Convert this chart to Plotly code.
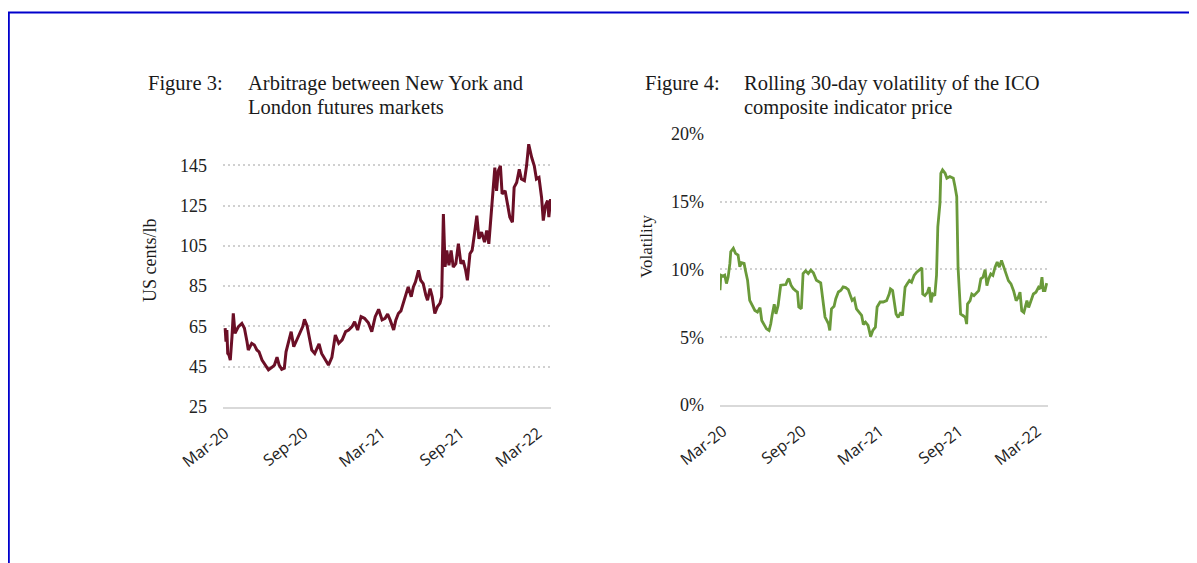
import plotly.graph_objects as go

W, H = 1197, 563
OFF = 8  # page body margin compensation

# ---------------- data ----------------
tick_dates = ["2020-03-01", "2020-09-01", "2021-03-01", "2021-09-01", "2022-03-01"]
tick_labels = ["Mar-20", "Sep-20", "Mar-21", "Sep-21", "Mar-22"]

arb_ticks = [25, 45, 65, 85, 105, 125, 145]
vol_ticks = [0, 5, 10, 15, 20]
vol_tick_labels = ["0%", "5%", "10%", "15%", "20%"]

arb_dates = [
    "2020-03-01", "2020-03-03", "2020-03-05", "2020-03-07", "2020-03-10", "2020-03-13",
    "2020-03-17", "2020-03-20", "2020-03-24", "2020-04-01", "2020-04-09", "2020-04-15",
    "2020-04-21", "2020-04-24", "2020-05-02", "2020-05-08", "2020-05-14", "2020-05-19",
    "2020-05-26", "2020-06-02", "2020-06-10", "2020-06-18", "2020-06-24", "2020-06-30",
    "2020-07-05", "2020-07-11", "2020-07-17", "2020-07-21", "2020-07-27", "2020-08-02",
    "2020-08-08", "2020-08-15", "2020-08-23", "2020-08-29", "2020-09-02", "2020-09-08",
    "2020-09-13", "2020-09-19", "2020-09-26", "2020-10-01", "2020-10-06", "2020-10-12",
    "2020-10-20", "2020-10-28", "2020-11-05", "2020-11-13", "2020-11-21", "2020-11-29",
    "2020-12-07", "2020-12-14", "2020-12-22", "2020-12-28", "2021-01-04", "2021-01-12",
    "2021-01-20", "2021-01-29", "2021-02-06", "2021-02-14", "2021-02-22", "2021-03-02",
    "2021-03-09", "2021-03-15", "2021-03-21", "2021-03-29", "2021-04-03", "2021-04-09",
    "2021-04-15", "2021-04-21", "2021-04-26", "2021-05-02", "2021-05-09", "2021-05-14",
    "2021-05-19", "2021-05-26", "2021-05-31", "2021-06-06", "2021-06-12", "2021-06-16",
    "2021-06-22", "2021-06-27", "2021-07-03", "2021-07-09", "2021-07-15", "2021-07-19",
    "2021-07-23", "2021-07-27", "2021-07-31", "2021-08-05", "2021-08-10", "2021-08-15",
    "2021-08-21", "2021-08-27", "2021-09-02", "2021-09-07", "2021-09-13", "2021-09-17",
    "2021-09-23", "2021-09-28", "2021-10-03", "2021-10-09", "2021-10-14", "2021-10-20",
    "2021-10-27", "2021-11-01", "2021-11-06", "2021-11-12", "2021-11-16", "2021-11-20",
    "2021-11-24", "2021-11-28", "2021-12-03", "2021-12-07", "2021-12-14", "2021-12-20",
    "2021-12-25", "2021-12-31", "2022-01-04", "2022-01-10", "2022-01-16", "2022-01-21",
    "2022-01-28", "2022-02-02", "2022-02-07", "2022-02-14", "2022-02-20", "2022-02-25",
    "2022-03-03", "2022-03-09", "2022-03-13", "2022-03-18", "2022-03-23", "2022-03-26",
    "2022-03-30",
]
arb_values = [
    64.1, 57.4, 63.2, 51.6, 50.8, 48.3,
    59.9, 71.5, 61.6, 64.9, 66.5, 64.1,
    57.4, 53.3, 56.6, 55.8, 53.3, 52.4,
    48.3, 45.8, 43.4, 44.7, 45.8, 49.7,
    45.8, 43.7, 44.2, 52.4, 57.4, 62.4,
    54.9, 58.3, 61.6, 64.9, 68.5, 65.4,
    59.9, 53.3, 51.6, 53.6, 56.3, 51.6,
    48.7, 45.8, 49.7, 60.7, 56.6, 58.3,
    62.4, 63.2, 64.9, 67.3, 63.2, 69.8,
    69.0, 66.8, 62.4, 69.8, 73.5, 68.2,
    69.0, 71.1, 68.1, 63.2, 68.1, 71.4,
    72.7, 77.2, 79.7, 84.6, 79.7, 84.6,
    87.1, 92.8, 87.9, 86.2, 80.5, 78.0,
    83.8, 79.7, 71.4, 74.7, 76.4, 79.7,
    120.8, 94.5, 102.7, 95.3, 102.7, 94.5,
    96.1, 106.0, 96.1, 97.8, 92.8, 87.9,
    101.1, 102.7, 110.1, 120.0, 108.5, 111.8,
    106.8, 112.6, 106.0, 124.1, 134.0, 143.8,
    132.3, 142.2, 144.7, 130.7, 132.3, 124.1,
    119.2, 116.7, 134.0, 136.4, 143.0, 138.1,
    137.3, 144.7, 155.4, 148.8, 144.7, 138.1,
    138.9, 129.0, 117.5, 124.9, 127.4, 119.2,
    128.2,
]

vol_dates = [
    "2020-02-23", "2020-02-25", "2020-03-01", "2020-03-05", "2020-03-09", "2020-03-13",
    "2020-03-17", "2020-03-19", "2020-03-25", "2020-03-30", "2020-04-05", "2020-04-09",
    "2020-04-13", "2020-04-19", "2020-04-22", "2020-04-27", "2020-05-02", "2020-05-08",
    "2020-05-14", "2020-05-20", "2020-05-26", "2020-05-30", "2020-06-05", "2020-06-10",
    "2020-06-16", "2020-06-20", "2020-06-23", "2020-06-28", "2020-07-02", "2020-07-07",
    "2020-07-13", "2020-07-19", "2020-07-25", "2020-07-29", "2020-08-01", "2020-08-06",
    "2020-08-11", "2020-08-17", "2020-08-21", "2020-08-24", "2020-08-30", "2020-09-03",
    "2020-09-09", "2020-09-15", "2020-09-21", "2020-09-27", "2020-10-04", "2020-10-14",
    "2020-10-20", "2020-10-24", "2020-10-28", "2020-11-01", "2020-11-04", "2020-11-08",
    "2020-11-14", "2020-11-18", "2020-11-24", "2020-11-30", "2020-12-05", "2020-12-11",
    "2020-12-17", "2020-12-21", "2020-12-26", "2020-12-31", "2021-01-05", "2021-01-11",
    "2021-01-17", "2021-01-21", "2021-01-26", "2021-02-01", "2021-02-07", "2021-02-12",
    "2021-02-18", "2021-02-22", "2021-03-01", "2021-03-08", "2021-03-16", "2021-03-22",
    "2021-03-25", "2021-03-30", "2021-04-02", "2021-04-07", "2021-04-12", "2021-04-18",
    "2021-04-22", "2021-04-28", "2021-05-03", "2021-05-08", "2021-05-13", "2021-05-19",
    "2021-05-25", "2021-05-31", "2021-06-06", "2021-06-08", "2021-06-13", "2021-06-19",
    "2021-06-23", "2021-06-27", "2021-07-01", "2021-07-06", "2021-07-10", "2021-07-13",
    "2021-07-18", "2021-07-20", "2021-07-24", "2021-07-30", "2021-08-03", "2021-08-10",
    "2021-08-18", "2021-08-22", "2021-08-26", "2021-08-29", "2021-09-01", "2021-09-04",
    "2021-09-10", "2021-09-15", "2021-09-18", "2021-09-20", "2021-09-26", "2021-09-30",
    "2021-10-05", "2021-10-11", "2021-10-16", "2021-10-21", "2021-10-26", "2021-10-31",
    "2021-11-04", "2021-11-08", "2021-11-13", "2021-11-18", "2021-11-23", "2021-11-28",
    "2021-12-03", "2021-12-08", "2021-12-14", "2021-12-19", "2021-12-24", "2021-12-30",
    "2022-01-05", "2022-01-11", "2022-01-16", "2022-01-20", "2022-01-24", "2022-01-29",
    "2022-02-05", "2022-02-09", "2022-02-14", "2022-02-20", "2022-02-26", "2022-03-04",
    "2022-03-08", "2022-03-12", "2022-03-15", "2022-03-19", "2022-03-23",
]
vol_values = [
    8.47, 9.58, 9.50, 9.58, 8.96, 9.46,
    10.45, 11.31, 11.56, 11.19, 11.06, 10.20,
    10.50, 10.45, 9.95, 9.21, 7.72, 7.35,
    6.98, 6.86, 7.18, 6.24, 5.87, 5.62,
    5.50, 5.99, 6.61, 7.43, 6.73, 7.35,
    8.84, 8.84, 8.89, 9.21, 9.33, 8.84,
    8.59, 8.42, 8.34, 7.23, 7.10, 9.70,
    9.90, 9.70, 9.95, 9.75, 9.21, 9.01,
    7.72, 6.49, 6.24, 5.99, 5.50, 7.10,
    7.28, 7.85, 8.34, 8.47, 8.71, 8.66,
    8.52, 8.09, 7.72, 7.85, 7.10, 6.86,
    6.61, 5.94, 6.11, 5.87, 5.05, 5.50,
    5.74, 7.23, 7.60, 7.60, 7.70, 8.19,
    8.57, 8.45, 7.70, 6.71, 6.46, 6.83,
    6.59, 8.69, 8.94, 9.18, 9.06, 9.56,
    9.80, 9.93, 10.12, 8.19, 8.07, 8.32,
    8.69, 7.57, 8.19, 8.07, 9.56, 13.14,
    14.88, 17.10, 17.35, 17.10, 16.73, 16.86,
    16.73, 16.11, 15.37, 10.17, 8.19, 6.71,
    6.59, 6.46, 5.97, 7.45, 7.70, 8.19,
    8.07, 8.32, 8.44, 9.31, 9.43, 9.98,
    8.81, 9.31, 9.68, 9.56, 10.17, 10.54,
    10.17, 10.67, 10.05, 9.68, 9.18, 8.94,
    8.44, 7.70, 7.95, 8.32, 6.96, 6.83,
    7.70, 7.20, 7.70, 8.19, 8.32, 8.69,
    8.57, 9.43, 8.44, 8.44, 8.99,
]

# ---------------- style ----------------
MAROON = "#6b0f26"
GREEN = "#6a9a3a"
GRID = "#d0d0d0"
BASE = "#d9d9d9"
TXT = "#222222"
SERIF = "Liberation Serif"
SANS = "Open Sans"


def px_x(p):
    return (p - OFF) / W


def px_y(p):
    return 1 - (p - OFF) / H


fig = go.Figure()
fig.add_trace(go.Scatter(x=arb_dates, y=arb_values, mode="lines",
                         line=dict(color=MAROON, width=3), xaxis="x", yaxis="y",
                         showlegend=False, hoverinfo="skip"))
fig.add_trace(go.Scatter(x=vol_dates, y=vol_values, mode="lines",
                         line=dict(color=GREEN, width=2.8), xaxis="x2", yaxis="y2",
                         showlegend=False, hoverinfo="skip"))

xcommon = dict(type="date", tickvals=tick_dates, ticktext=tick_labels, tickangle=-38,
               showgrid=False, zeroline=False, showline=True, linecolor=BASE, linewidth=1.5,
               ticks="", tickfont=dict(family=SANS, size=16, color=TXT),
               ticklabelstandoff=9, fixedrange=True, automargin=False)
ycommon = dict(showgrid=True, gridcolor=GRID, griddash="2px,3px", gridwidth=1.5,
               zeroline=False, showline=False, ticks="",
               tickfont=dict(family=SERIF, size=18, color=TXT),
               ticklabelstandoff=15, fixedrange=True, automargin=False)

fig.update_layout(
    width=W, height=H,
    margin=dict(l=0, r=0, t=0, b=0, autoexpand=False),
    paper_bgcolor="white", plot_bgcolor="white",
    xaxis=dict(xcommon, domain=[px_x(223), px_x(551)], anchor="y",
               range=["2020-02-25", "2022-03-31"]),
    yaxis=dict(ycommon, domain=[px_y(407), px_y(139)], anchor="x",
               range=[25, 158], tickvals=arb_ticks),
    xaxis2=dict(xcommon, domain=[px_x(720), px_x(1048)], anchor="y2",
                range=["2020-02-23", "2022-03-26"]),
    yaxis2=dict(ycommon, domain=[px_y(405), px_y(133.3)], anchor="x2",
                range=[0, 20.05], tickvals=vol_ticks, ticktext=vol_tick_labels),
)

ann = []


def label(text, x, y, size=20.5, angle=0, xanchor="left"):
    ann.append(dict(text=text, x=px_x(x), y=px_y(y), xref="paper", yref="paper",
                    xanchor=xanchor, yanchor="middle", showarrow=False, textangle=angle,
                    font=dict(family=SERIF, size=size, color="#1a1a1a")))


label("Figure 3:", 146, 83.5)
label("Arbitrage between New York and", 246, 83.5)
label("London futures markets", 246, 107)
label("Figure 4:", 643, 83)
label("Rolling 30-day volatility of the ICO", 742, 83)
label("composite indicator price", 742, 107.5)
label("US cents/lb", 150, 260, size=18, angle=-90, xanchor="center")
label("Volatility", 647, 247, size=17, angle=-90, xanchor="center")

fig.update_layout(annotations=ann)

# blue frame lines
fig.add_shape(type="line", xref="paper", yref="paper", x0=px_x(8), x1=1, y0=px_y(12.5), y1=px_y(12.5),
              line=dict(color="#0000cc", width=2))
fig.add_shape(type="line", xref="paper", yref="paper", x0=px_x(8.8), x1=px_x(8.8), y0=px_y(12), y1=0,
              line=dict(color="#0000cc", width=2))

fig.write_html("out.html")
